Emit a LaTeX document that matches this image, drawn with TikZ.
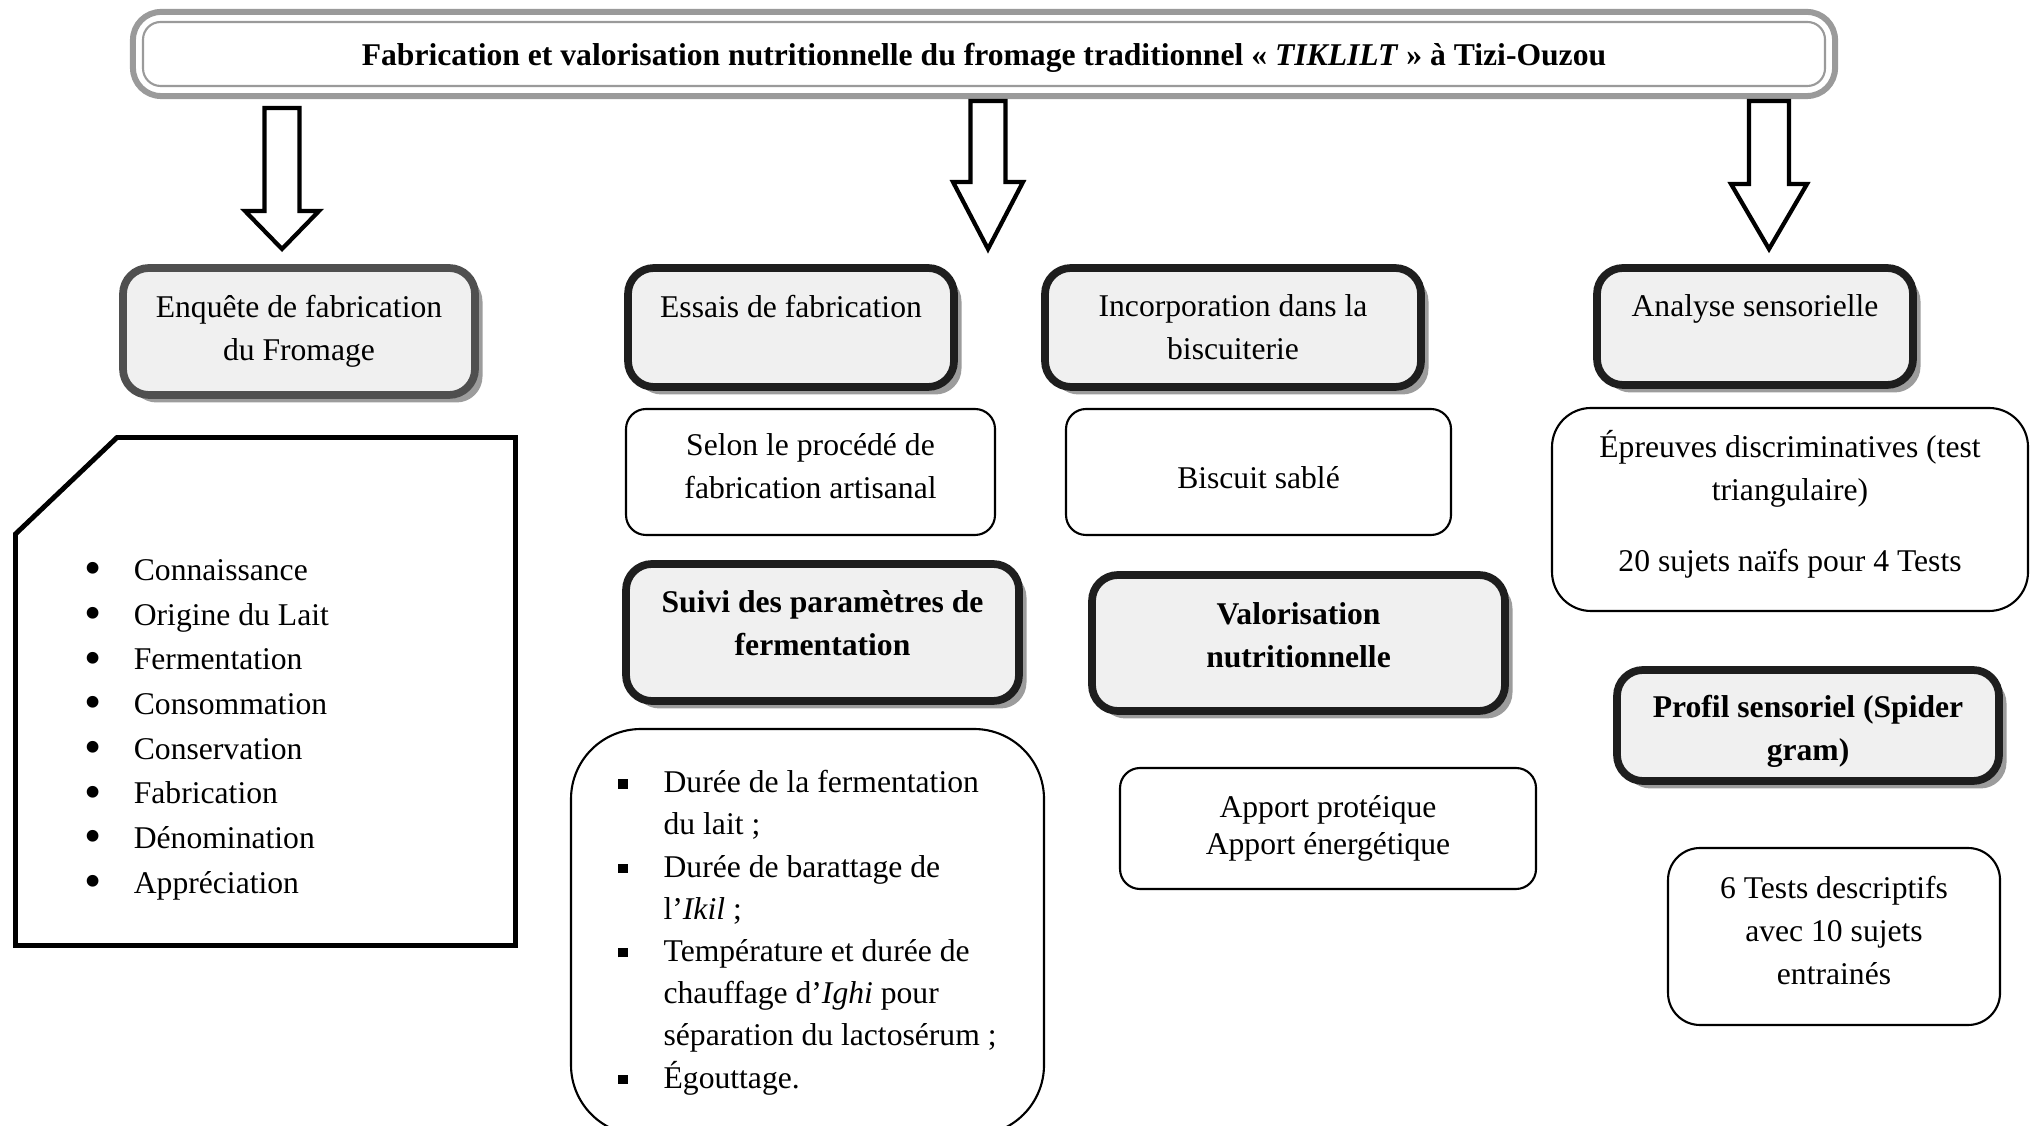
\documentclass[tikz,border=0pt]{standalone}
\usepackage{fontspec}
\setmainfont{Liberation Serif}
\usetikzlibrary{calc,fit,shadows}
\definecolor{FroFill}{HTML}{F0F0F0}
\definecolor{FroEdge}{HTML}{1E1E1E}
\definecolor{FroEdgeSoft}{HTML}{4F4F4F}
\definecolor{FroFrame}{HTML}{9A9A9A}
\definecolor{FroShadow}{HTML}{9C9C9C}
\newcommand{\frosq}{\rule[1.2pt]{2.6pt}{2.6pt}}
\newcommand{\frodot}{\raisebox{-1.2pt}{\scalebox{1.55}{\textbullet}}}
% hollow block arrow: top, tip, half shaft, half head, head length
\newcommand{\froarrow}[5]{%
  \draw[fro arrow] ($(#1)+(-#3,0)$) -- ($(#2)+(-#3,-#5)$) -- ($(#2)+(-#4,-#5)$)
    -- (#2) -- ($(#2)+(#4,-#5)$) -- ($(#2)+(#3,-#5)$) -- ($(#1)+(#3,0)$) -- cycle;}
\tikzset{
  fro title/.style={
    draw=FroFrame,
    fill=white,
    line width=0.6pt,
    rounded corners=5pt,
    minimum width=168.2mm,
    minimum height=6.4mm,
    inner sep=0pt,
    text height=8.9pt,
    text depth=2.1pt,
    font=\fontsize{9}{12}\selectfont\bfseries
  },
  fro frame/.style={
    draw=FroFrame,
    line width=0.6mm,
    rounded corners=8pt,
    inner sep=0.9mm
  },
  fro header/.style={
    draw=FroEdge,
    fill=FroFill,
    line width=2.2pt,
    rounded corners=2.6mm,
    align=center,
    inner sep=2pt,
    font=\fontsize{9}{12.2}\selectfont,
    drop shadow={shadow xshift=0.75mm,shadow yshift=-0.75mm,fill=FroShadow,opacity=1}
  },
  fro header bold/.style={
    fro header,
    font=\fontsize{9}{12.2}\selectfont\bfseries
  },
  fro note/.style={
    draw=black,
    fill=white,
    line width=0.6pt,
    rounded corners=2mm,
    align=center,
    inner sep=2pt,
    font=\fontsize{9}{12.2}\selectfont
  },
  fro outline/.style={draw=black,line width=1.4pt},
  fro arrow/.style={draw=black,fill=white,line width=1.2pt}
}
\begin{document}
\begin{tikzpicture}[x=0.1mm,y=-0.1mm]
  \useasboundingbox (0,0) rectangle (2031,1126);

  \node[fro title] (title) at (984,54) {Fabrication et valorisation nutritionnelle du fromage traditionnel « \textit{TIKLILT} » à Tizi-Ouzou};
  \node[fro frame,fit=(title)] (titleframe) {};

  \coordinate (survey top) at (282,108);
  \coordinate (survey tip) at (282,249);
  \coordinate (trials top) at (988,101);
  \coordinate (trials tip) at (988,249);
  \coordinate (sensory top) at (1769,101);
  \coordinate (sensory tip) at (1769,249);
  \froarrow{survey top}{survey tip}{17.5}{37}{38}
  \froarrow{trials top}{trials tip}{17.5}{35}{67}
  \froarrow{sensory top}{sensory tip}{20}{38}{65}

  \node[fro header,draw=FroEdgeSoft,minimum width=35.2mm,minimum height=12.7mm] (survey) at (299,331.5) {Enquête de fabrication\\du Fromage};
  \node[fro header,minimum width=32.6mm,minimum height=11.9mm] (trials) at (791,327.5) {Essais de fabrication\\\mbox{}};
  \node[fro header,minimum width=37.6mm,minimum height=11.9mm] (bakery) at (1233,327.5) {Incorporation dans la\\biscuiterie};
  \node[fro header,minimum width=31.6mm,minimum height=11.7mm] (sensory) at (1755,326.5) {Analyse sensorielle\\\mbox{}};

  \draw[fro outline] (15.5,534) -- (117,437.5) -- (515.5,437.5) -- (515.5,945.5) -- (15.5,945.5) -- cycle;
  \node[inner sep=0pt,anchor=west,font=\fontsize{9}{12.7}\selectfont] (topics) at (84,728) {%
    \begin{tabular}{@{}l@{\hspace{3.2mm}}l@{}}
      \frodot & Connaissance\\
      \frodot & Origine du Lait\\
      \frodot & Fermentation\\
      \frodot & Consommation\\
      \frodot & Conservation\\
      \frodot & Fabrication\\
      \frodot & Dénomination\\
      \frodot & Appréciation
    \end{tabular}};

  \node[fro note,text depth=3.5pt,minimum width=36.9mm,minimum height=12.6mm] (process) at (810.5,472) {Selon le procédé de\\fabrication artisanal};
  \node[fro note,text height=9.5pt,minimum width=38.5mm,minimum height=12.6mm] (shortbread) at (1258.5,472) {Biscuit sablé};
  \node[fro note,text depth=5pt,rounded corners=3.9mm,minimum width=47.6mm,minimum height=20.3mm] (triangle) at (1790,509.5) {Épreuves discriminatives (test\\triangulaire)\\[8pt]20 sujets naïfs pour 4 Tests};

  \node[fro header bold,text depth=5.2pt,minimum width=39.3mm,minimum height=13.7mm] (followup) at (822.5,632.5) {Suivi des paramètres de\\fermentation};
  \node[fro header bold,text depth=4.5pt,minimum width=41.3mm,minimum height=13.6mm] (nutrition) at (1298.5,643) {Valorisation\\nutritionnelle};
  \node[fro header bold,text height=22pt,minimum width=38.2mm,minimum height=11.1mm] (profile) at (1808,725.5) {Profil sensoriel (Spider\\gram)};

  \node[fro note,rounded corners=7mm,minimum width=47.3mm,minimum height=40.6mm,font=\fontsize{9}{12}\selectfont] (params) at (807.5,932) {%
    \begin{tabular}{@{}l@{\hspace{3.6mm}}l@{}}
      \frosq & Durée de la fermentation\\
             & du lait ;\\
      \frosq & Durée de barattage de\\
             & l’\textit{Ikil} ;\\
      \frosq & Température et durée de\\
             & chauffage d’\textit{Ighi} pour\\
             & séparation du lactosérum ;\\
      \frosq & Égouttage.
    \end{tabular}};
  \node[fro note,font=\fontsize{9}{10.3}\selectfont,minimum width=41.6mm,minimum height=12.1mm] (intake) at (1328,828.5) {Apport protéique\\Apport énergétique};
  \node[fro note,text depth=3.5pt,rounded corners=3.2mm,minimum width=33.2mm,minimum height=17.7mm] (descriptive) at (1834,936.5) {6 Tests descriptifs\\avec 10 sujets\\entrainés};
\end{tikzpicture}
\end{document}
